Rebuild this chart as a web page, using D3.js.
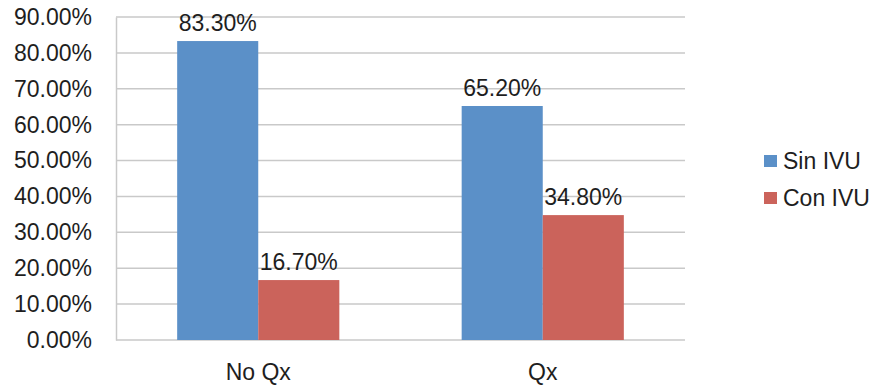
<!DOCTYPE html>
<html>
<head>
<meta charset="utf-8">
<script src="https://cdn.jsdelivr.net/npm/d3@7"></script>
<style>
  body { margin: 0; background: #fff; }
  svg { font-family: "Liberation Sans", Arial, sans-serif; }
</style>
</head>
<body>
<svg width="877" height="389"></svg>
<script>
// data
const categories = ['No Qx', 'Qx']
const seriesNames = ['Sin IVU', 'Con IVU']
const sinIVU = [83.3, 65.2]
const conIVU = [16.7, 34.8]
const yTicks = [0, 10, 20, 30, 40, 50, 60, 70, 80, 90]
const colors = ['#5b90c8', '#cb635b']

const fontSize = 23
const textColor = '#1e1e1e'

const svg = d3.select('svg')
const margin = {left: 116, top: 17, right: 192, bottom: 49}
const width = 877 - margin.left - margin.right
const height = 389 - margin.top - margin.bottom

const g = svg.append('g').attr('transform', `translate(${margin.left},${margin.top})`)

const x0 = d3.scaleBand().domain(categories).range([0, width])
  .paddingInner(0.43).paddingOuter(0.215)
const x1 = d3.scaleBand().domain(seriesNames).range([0, x0.bandwidth()])
const y = d3.scaleLinear().domain([0, 90]).range([height, 0])
const color = d3.scaleOrdinal().domain(seriesNames).range(colors)

// gridlines
g.append('g').selectAll('line')
  .data(yTicks)
  .join('line')
  .attr('x1', 0).attr('x2', width)
  .attr('y1', d => y(d)).attr('y2', d => y(d))
  .attr('stroke', '#c9c9c9').attr('stroke-width', 1.5)

// y axis
const yAxis = g.append('g')
  .call(d3.axisLeft(y).tickValues(yTicks).tickSize(0).tickPadding(24)
    .tickFormat(d => d.toFixed(2) + '%'))
yAxis.select('.domain').attr('stroke', '#c9c9c9').attr('stroke-width', 1.5)
yAxis.selectAll('text').attr('font-size', fontSize).attr('fill', textColor)
  .attr('font-family', '"Liberation Sans", Arial, sans-serif')

// x axis
const xAxis = g.append('g').attr('transform', `translate(0,${height})`)
  .call(d3.axisBottom(x0).tickSize(0).tickPadding(24))
xAxis.select('.domain').remove()
xAxis.selectAll('text').attr('font-size', fontSize).attr('fill', textColor)
  .attr('font-family', '"Liberation Sans", Arial, sans-serif')

// bars
const rows = categories.map((c, i) => ({
  cat: c,
  vals: [{key: seriesNames[0], v: sinIVU[i]}, {key: seriesNames[1], v: conIVU[i]}]
}))

const groups = g.selectAll('.grp')
  .data(rows)
  .join('g')
  .attr('class', 'grp')
  .attr('transform', d => `translate(${x0(d.cat)},0)`)

groups.selectAll('rect')
  .data(d => d.vals)
  .join('rect')
  .attr('x', d => x1(d.key))
  .attr('width', x1.bandwidth())
  .attr('y', d => y(d.v))
  .attr('height', d => height - y(d.v))
  .attr('fill', d => color(d.key))

groups.selectAll('text')
  .data(d => d.vals)
  .join('text')
  .attr('x', d => x1(d.key) + x1.bandwidth() / 2)
  .attr('y', d => y(d.v) - 10)
  .attr('text-anchor', 'middle')
  .attr('font-size', fontSize)
  .attr('fill', textColor)
  .text(d => d.v.toFixed(2) + '%')

// legend
const legend = svg.append('g').attr('transform', 'translate(764,155)')
const items = legend.selectAll('g')
  .data(seriesNames)
  .join('g')
  .attr('transform', (d, i) => `translate(0,${i * 37})`)
items.append('rect')
  .attr('width', 13).attr('height', 12)
  .attr('fill', d => color(d))
items.append('text')
  .attr('x', 19).attr('y', 6)
  .attr('dy', '0.35em')
  .attr('font-size', fontSize)
  .attr('fill', textColor)
  .text(d => d)
</script>
</body>
</html>
